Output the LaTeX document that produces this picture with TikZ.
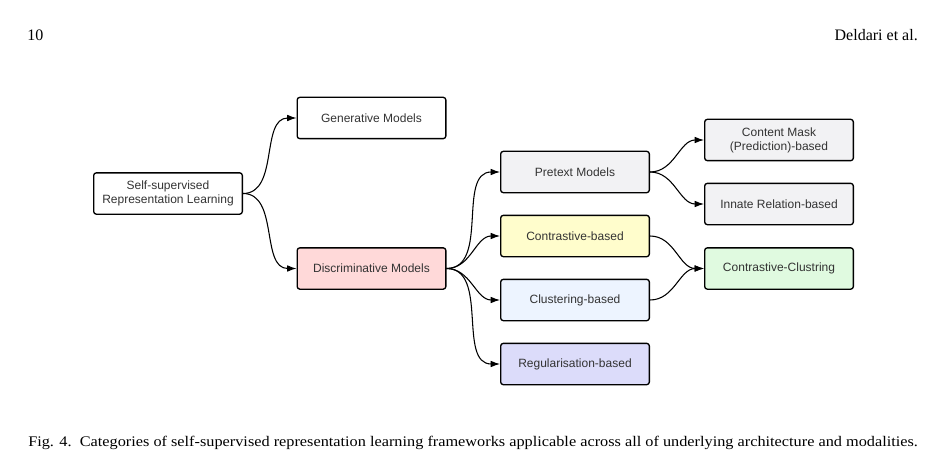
\documentclass[tikz,border=0pt]{standalone}
\usepackage{fontspec}
\setmainfont{Liberation Serif}
\setsansfont{Liberation Sans}
\usetikzlibrary{arrows.meta}

\definecolor{discfill}{HTML}{FFD9D9}
\definecolor{pretextfill}{HTML}{F2F2F4}
\definecolor{contrfill}{HTML}{FFFDCC}
\definecolor{clustfill}{HTML}{EDF4FF}
\definecolor{regfill}{HTML}{DCDCFA}
\definecolor{ccfill}{HTML}{E0FAE0}

\begin{document}
\begin{tikzpicture}[x=0.75pt,y=-0.75pt,
    box/.style={draw=black,line width=1pt,rounded corners=2pt,
        minimum width=111.5pt,minimum height=31pt,inner sep=2pt,align=center,
        font=\sffamily\fontsize{9}{10.5}\selectfont,text=black!80},
    link/.style={-{Latex[length=7pt,width=5pt]},line width=0.8pt}]
    \useasboundingbox (0,0) rectangle (945,474);
    % page header
    \node[anchor=base west,inner sep=0,font=\fontsize{12}{14}\selectfont] (page) at (27,41) {10};
    \node[anchor=base east,inner sep=0,font=\fontsize{12}{14}\selectfont] (auth) at (918,41) {Deldari et al.};
    % boxes
    \node[box] (ssl) at (168,193.5) {Self-supervised\\Representation Learning};
    \node[box] (gen) at (371.5,118) {Generative Models};
    \node[box,fill=discfill] (disc) at (371.5,268.5) {Discriminative Models};
    \node[box,fill=pretextfill] (pretext) at (575,172) {Pretext Models};
    \node[box,fill=contrfill] (contr) at (575,236) {Contrastive-based};
    \node[box,fill=clustfill] (clust) at (575,300) {Clustering-based};
    \node[box,fill=regfill] (reg) at (575,364) {Regularisation-based};
    \node[box,fill=pretextfill] (mask) at (779,140) {Content Mask\\(Prediction)-based};
    \node[box,fill=pretextfill] (innate) at (779,204) {Innate Relation-based};
    \node[box,fill=ccfill] (cc) at (779,268.5) {Contrastive-Clustring};
    % connectors
    \foreach \a/\b in {ssl/gen,ssl/disc,disc/pretext,disc/contr,disc/clust,disc/reg,
        pretext/mask,pretext/innate,contr/cc,clust/cc}
    \draw[link] (\a.east) to[out=0,in=180] (\b.west);
    % caption
    \node[anchor=base west,inner sep=0,font=\fontsize{11}{13}\selectfont] (cap) at (28,446)
        {\scalebox{1.11}[1]{Fig. 4.\ \ Categories of self-supervised representation learning frameworks applicable across all of underlying architecture and modalities.}};
\end{tikzpicture}
\end{document}
